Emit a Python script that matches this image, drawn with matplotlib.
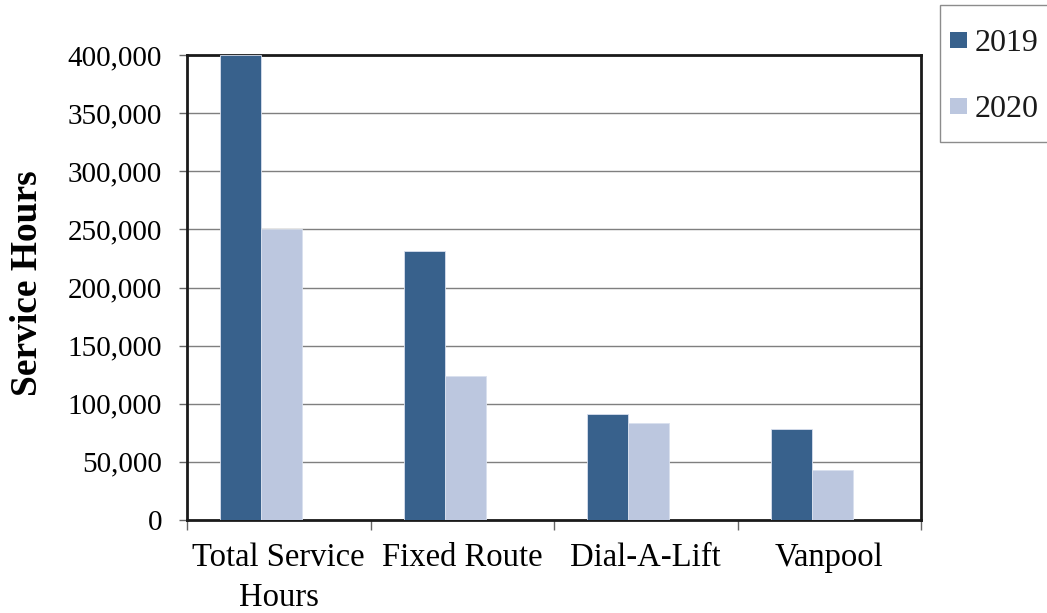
import matplotlib
matplotlib.use("Agg")
import matplotlib.pyplot as plt
from matplotlib.ticker import FuncFormatter, FixedLocator
from matplotlib.patches import Rectangle
import numpy as np

categories = ["Total Service\nHours", "Fixed Route", "Dial-A-Lift", "Vanpool"]
series_names = ["2019", "2020"]
values_2019 = [400000, 231500, 91000, 78500]
values_2020 = [250000, 124000, 83500, 43000]
colors = ["#38618C", "#BCC7DF"]

plt.rcParams["font.family"] = ["Liberation Serif", "DejaVu Serif"]

W, H = 1047, 613
fig = plt.figure(figsize=(W/100, H/100), dpi=100)
ax = fig.add_axes([187/W, 1 - 520/H, (921-187)/W, (520-55)/H])

x = np.arange(len(categories))
bw = 0.2234
start = -0.32
for i, (vals, name) in enumerate(zip([values_2019, values_2020], series_names)):
    ax.bar(x + start + i*bw, vals, width=bw, align="edge", color=colors[i],
           edgecolor="#D9E0EE", linewidth=0.6, label=name, zorder=3)

ax.set_xlim(-0.5, len(categories) - 0.5)
ax.set_ylim(0, 400000)
ax.set_yticks(np.arange(0, 400001, 50000))
ax.yaxis.set_major_formatter(FuncFormatter(lambda v, p: f"{int(v):,}"))
ax.yaxis.grid(True, color="#7F7F7F", linewidth=1.0, zorder=0)
ax.set_axisbelow(True)

ax.set_xticks(x)
ax.set_xticklabels(categories, fontsize=23.5, linespacing=1.42)
ax.xaxis.set_minor_locator(FixedLocator(np.arange(-0.5, len(categories), 1.0)))
ax.tick_params(axis="x", which="major", length=0, pad=16)
ax.tick_params(axis="x", which="minor", length=7, width=1, color="#666666", direction="out")
ax.tick_params(axis="y", which="major", length=6, width=1, color="#666666", direction="out",
               labelsize=21, pad=12)

for s in ax.spines.values():
    s.set_linewidth(2)
    s.set_color("#1a1a1a")

ax.set_ylabel("Service Hours", fontsize=27, fontweight="bold")
ax.yaxis.set_label_coords(-0.1935, 0.51)

# Legend (drawn manually in figure pixel coordinates, partially cut at right edge)
def fx(px):
    return px / W

def fy(py):
    return 1 - py / H

fig.patches.append(Rectangle((fx(940), fy(142)), fx(1070) - fx(940), fy(5) - fy(142),
                             transform=fig.transFigure, facecolor="white",
                             edgecolor="#8C8C8C", linewidth=1.0))
row_centers = [40, 106]
for name, col, cy in zip(series_names, colors, row_centers):
    fig.patches.append(Rectangle((fx(950), fy(cy + 8)), fx(17), 16 / H,
                                 transform=fig.transFigure, facecolor=col,
                                 edgecolor="none"))
    fig.text(fx(975), fy(cy + 11), name, fontsize=23, ha="left", va="baseline",
             color="#1a1a1a")

fig.savefig("out.png", dpi=100)
